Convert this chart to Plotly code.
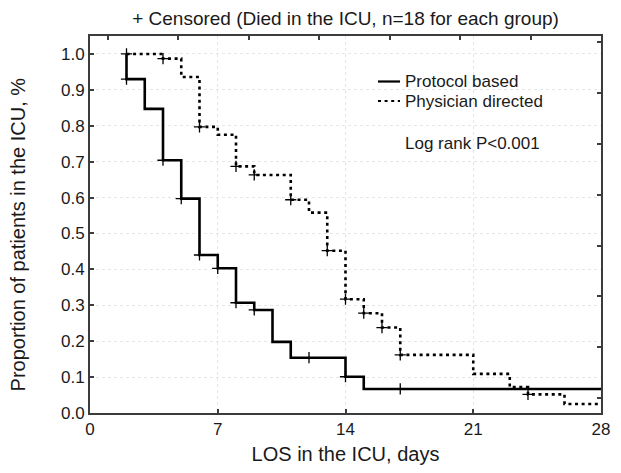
import plotly.graph_objects as go

# ---- data ----
protocol_days = [2, 2, 3, 4, 5, 6, 7, 8, 9, 10, 11, 14, 15, 28]
protocol_surv = [1.0, 0.93, 0.847, 0.704, 0.597, 0.44, 0.403, 0.307, 0.287, 0.198, 0.154, 0.101, 0.067, 0.067]
protocol_cens_days = [2, 4, 5, 6, 7, 8, 9, 12, 14, 17]
protocol_cens_surv = [0.93, 0.704, 0.597, 0.44, 0.403, 0.307, 0.287, 0.154, 0.101, 0.067]

physician_days = [2, 4, 5, 6, 7, 8, 9, 11, 12, 13, 14, 15, 16, 17, 21, 23, 24, 26, 28]
physician_surv = [1.0, 0.987, 0.936, 0.797, 0.775, 0.687, 0.663, 0.594, 0.558, 0.452, 0.317, 0.278,
                  0.238, 0.162, 0.109, 0.072, 0.052, 0.025, 0.025]
physician_cens_days = [2, 4, 6, 8, 9, 11, 13, 14, 15, 16, 17, 24]
physician_cens_surv = [1.0, 0.987, 0.797, 0.687, 0.663, 0.594, 0.452, 0.317, 0.278, 0.238, 0.162, 0.052]

x_ticks = [0, 7, 14, 21, 28]
y_ticks = [round(i / 10, 1) for i in range(11)]

series_names = ["Protocol based", "Physician directed"]
title_text = "+ Censored (Died in the ICU, n=18 for each group)"
x_title = "LOS in the ICU, days"
y_title = "Proportion of patients in the ICU, %"
note_text = "Log rank P<0.001"

FONT = "Liberation Sans, Arial, Helvetica, sans-serif"
INK = "#1a1a1a"
FRAME = "#3c3c3c"
DOT = "3px,3.6px"

fig = go.Figure()
fig.add_trace(go.Scatter(x=protocol_days, y=protocol_surv, mode="lines", line_shape="hv",
                         line=dict(color="black", width=2.6), name=series_names[0], showlegend=False))
fig.add_trace(go.Scatter(x=physician_days, y=physician_surv, mode="lines", line_shape="hv",
                         line=dict(color="black", width=2.6, dash=DOT), name=series_names[1], showlegend=False))
fig.add_trace(go.Scatter(x=protocol_cens_days, y=protocol_cens_surv, mode="markers",
                         marker=dict(symbol="cross-thin", size=8, line=dict(color="black", width=1.3)),
                         showlegend=False))
fig.add_trace(go.Scatter(x=physician_cens_days, y=physician_cens_surv, mode="markers",
                         marker=dict(symbol="cross-thin", size=8, line=dict(color="black", width=1.3)),
                         showlegend=False))
# invisible trace carrying the secondary (top/right) tick marks
fig.add_trace(go.Scatter(x=[None], y=[None], xaxis="x2", yaxis="y2", showlegend=False))

# legend drawn manually (short key lines as in reference)
leg_x0, leg_x1 = 378, 400
for name, dash, yy in [(series_names[0], "solid", 81.5), (series_names[1], DOT, 101)]:
    fig.add_shape(type="line", xref="paper", yref="paper",
                  x0=(leg_x0 - 90) / 511, x1=(leg_x1 - 90) / 511,
                  y0=(413 - yy) / 377, y1=(413 - yy) / 377,
                  line=dict(color="black", width=2.2, dash=dash))
    fig.add_annotation(text=name, xref="paper", yref="paper", x=(403 - 90) / 511, y=(413 - yy) / 377,
                       xanchor="left", yanchor="middle", showarrow=False,
                       font=dict(family=FONT, size=17, color=INK))
fig.add_annotation(text=note_text, xref="paper", yref="paper", x=(403 - 90) / 511, y=(413 - 143) / 377,
                   xanchor="left", yanchor="middle", showarrow=False,
                   font=dict(family=FONT, size=17, color=INK))
fig.add_annotation(text=y_title, xref="paper", yref="paper", x=-0.14, y=(413 - 234) / 377,
                   textangle=-90, xanchor="center", yanchor="middle", showarrow=False,
                   font=dict(family=FONT, size=20, color=INK))

grid = dict(showgrid=True, gridcolor="#e6e6e6", griddash="dot", gridwidth=1)
fig.update_layout(
    width=621, height=473,
    margin=dict(l=90, r=20, t=36, b=60),
    paper_bgcolor="white", plot_bgcolor="white",
    font=dict(family=FONT, color=INK),
    title=dict(text=title_text, x=0.5, xref="paper", xanchor="center", y=1 - 18 / 473, yanchor="middle",
               font=dict(family=FONT, size=19, color=INK)),
    xaxis=dict(range=[0, 28], tickvals=x_ticks, ticktext=[str(v) for v in x_ticks],
               ticks="inside", ticklen=4, tickcolor=FRAME, tickwidth=1.5,
               showline=True, linecolor=FRAME, linewidth=2, mirror=True, zeroline=False,
               tickfont=dict(family=FONT, size=17, color=INK),
               title=dict(text=x_title, font=dict(family=FONT, size=20, color=INK), standoff=9),
               **grid),
    yaxis=dict(range=[0, 1.05], tickvals=y_ticks, tickformat=".1f",
               ticks="inside", ticklen=4, tickcolor=FRAME, tickwidth=1.5,
               showline=True, linecolor=FRAME, linewidth=2, mirror=True, zeroline=False,
               tickfont=dict(family=FONT, size=17, color=INK), **grid),
    xaxis2=dict(overlaying="x", side="top", range=[0, 28], tick0=0.986, dtick=3.86,
                ticks="inside", ticklen=4, tickcolor=FRAME, tickwidth=1.5,
                showticklabels=False, showgrid=False, zeroline=False, showline=False),
    yaxis2=dict(overlaying="y", side="right", range=[0, 1.05], tick0=0.183, dtick=0.1417,
                ticks="inside", ticklen=4, tickcolor=FRAME, tickwidth=1.5,
                showticklabels=False, showgrid=False, zeroline=False, showline=False),
    showlegend=False,
)

fig.write_html("out.html", config={"displayModeBar": False},
               post_script="document.body.style.margin='0';")
